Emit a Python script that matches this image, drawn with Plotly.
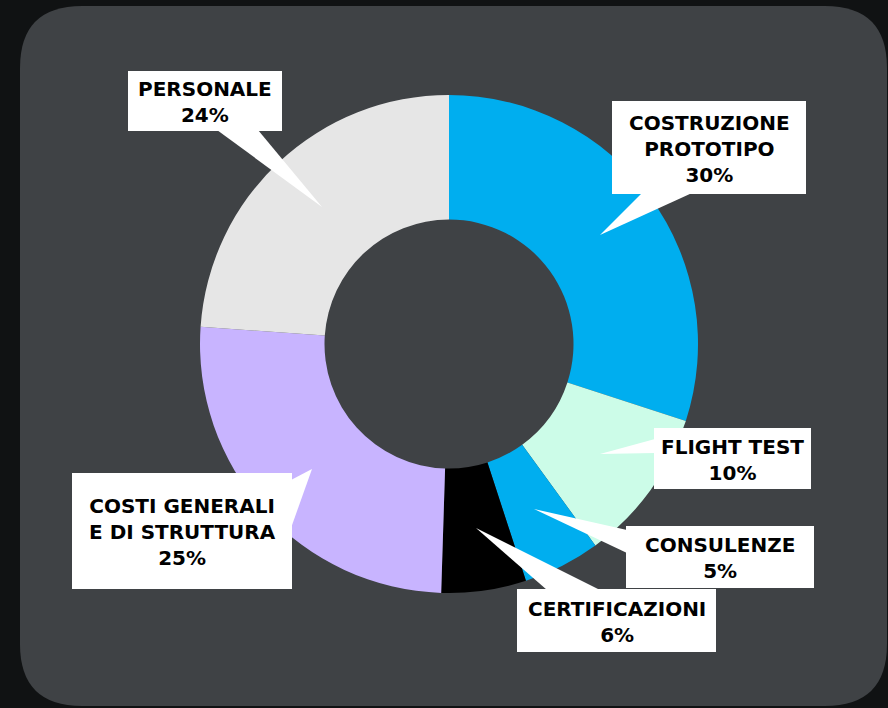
import plotly.graph_objects as go

W, H = 888, 708

# ---- data ----
categories = ["COSTRUZIONE PROTOTIPO", "FLIGHT TEST", "CONSULENZE",
              "CERTIFICAZIONI", "COSTI GENERALI E DI STRUTTURA", "PERSONALE"]
callout_lines = ["COSTRUZIONE<br>PROTOTIPO", "FLIGHT TEST", "CONSULENZE",
                 "CERTIFICAZIONI", "COSTI GENERALI<br>E DI STRUTTURA", "PERSONALE"]
values = [30, 10, 5, 5.5, 25.6, 23.9]
# percentages as printed in the callouts
pct_labels = ["30%", "10%", "5%", "6%", "25%", "24%"]
colors = ["#00AEEF", "#CCFCE8", "#00AEEF", "#000000", "#C8B4FF", "#E6E6E6"]

# ---- layout helpers (pixel -> paper) ----
def px(x):
    return x / W

def py(y):
    return 1 - y / H

cx, cy, r = 449, 344, 249

fig = go.Figure()
fig.add_trace(go.Pie(
    labels=categories, values=values, sort=False, direction="clockwise",
    rotation=0, hole=0.5, marker=dict(colors=colors, line=dict(width=0)),
    textinfo="none", hoverinfo="label+percent", showlegend=False,
    domain=dict(x=[px(cx - r), px(cx + r)], y=[py(cy + r), py(cy - r)]),
))

shapes = []
# panel with rounded corners
x0, y0, x1, y1, rr = 20, 6, 887, 706, 62
panel = (f"M {px(x0+rr)},{py(y0)} L {px(x1-rr)},{py(y0)} "
         f"Q {px(x1)},{py(y0)} {px(x1)},{py(y0+rr)} "
         f"L {px(x1)},{py(y1-rr)} Q {px(x1)},{py(y1)} {px(x1-rr)},{py(y1)} "
         f"L {px(x0+rr)},{py(y1)} Q {px(x0)},{py(y1)} {px(x0)},{py(y1-rr)} "
         f"L {px(x0)},{py(y0+rr)} Q {px(x0)},{py(y0)} {px(x0+rr)},{py(y0)} Z")
shapes.append(dict(type="path", path=panel, xref="paper", yref="paper",
                   fillcolor="#3F4245", line=dict(width=0), layer="below"))

# callout boxes: (box x0, y0, x1, y1), pointer triangle (base pt1, base pt2, tip)
boxes = [
    ((612, 101, 806, 194), ((642, 193), (692, 193), (600, 235))),
    ((654, 428, 811, 489), ((655, 439), (655, 453), (600, 454))),
    ((626, 526, 814, 588), ((627, 530), (627, 553), (534, 509))),
    ((517, 589, 716, 652), ((547, 590), (600, 590), (476, 528))),
    ((72, 473, 292, 589), ((291, 480), (291, 528), (312, 469))),
    ((128, 71, 282, 131), ((217, 130), (258, 130), (322, 207))),
]

annotations = []
for (box, ptr), lab, pct in zip(boxes, callout_lines, pct_labels):
    bx0, by0, bx1, by1 = box
    p1, p2, tip = ptr
    shapes.append(dict(type="rect", xref="paper", yref="paper",
                       x0=px(bx0), x1=px(bx1), y0=py(by1), y1=py(by0),
                       fillcolor="white", line=dict(width=0), layer="above"))
    tri = (f"M {px(p1[0])},{py(p1[1])} L {px(p2[0])},{py(p2[1])} "
           f"L {px(tip[0])},{py(tip[1])} Z")
    shapes.append(dict(type="path", path=tri, xref="paper", yref="paper",
                       fillcolor="white", line=dict(width=0), layer="above"))
    annotations.append(dict(
        x=px((bx0 + bx1) / 2), y=py((by0 + by1) / 2 + 1), xref="paper", yref="paper",
        xanchor="center", yanchor="middle", showarrow=False, align="center",
        text=f"<b>{lab}<br>{pct}</b>",
        font=dict(family="DejaVu Sans", size=20, color="#000000"),
    ))

fig.update_layout(
    width=W, height=H, margin=dict(l=0, r=0, t=0, b=0),
    paper_bgcolor="#101213", plot_bgcolor="#101213",
    shapes=shapes, annotations=annotations,
)

fig.write_html(
    "out.html",
    config={"displayModeBar": False},
    post_script="document.body.style.margin='0';document.body.style.background='#101213';",
)
